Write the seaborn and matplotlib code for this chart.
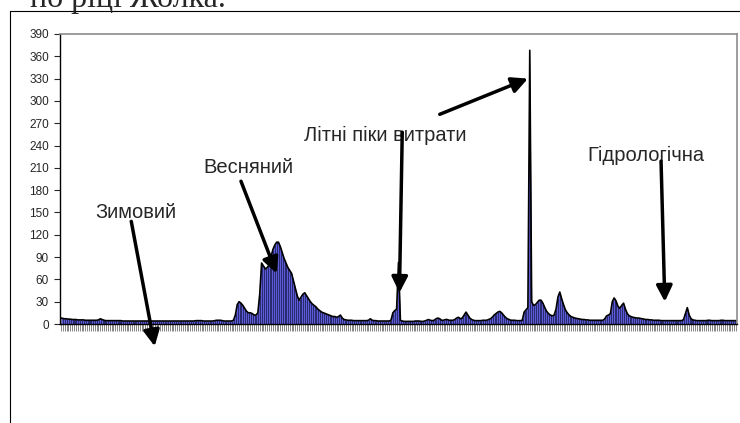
import numpy as np
import pandas as pd
import matplotlib
matplotlib.use("Agg")
import matplotlib.pyplot as plt
from matplotlib.lines import Line2D
import seaborn as sns

# ==============================================================================
# ДАНІ: добові витрати води, р. Жолка
# ==============================================================================
winter_q = [
    8, 7.5, 7, 7, 6.5, 6.5, 6, 6, 6, 5.5,
    5.5, 5.5, 5.5, 5, 5, 5, 5, 5, 5, 5,
    5.5, 7, 6, 5, 4.5, 4.5, 4.5, 4.5, 4.5, 4.5,
    4.5, 4.5, 4.5, 4, 4, 4, 4, 4, 4, 4,
    4, 4, 4, 4, 4, 4, 4, 4, 4, 4,
    4, 4, 4, 4, 4, 4, 4, 4, 4, 4,
    4, 4, 4, 4, 4, 4, 4, 4, 4, 4,
    4, 4, 4.5, 4.5, 4.5, 4.5, 4, 4, 4, 4,
    4, 4, 4.5, 5, 5, 5, 4.5, 4, 4, 4,
    4, 4, 5,
]
spring_q = [
    12, 26, 30, 28, 25, 21, 17, 15, 15, 14,
    12, 12, 15, 40, 82, 78, 74, 76, 79, 90,
    100, 106, 110, 110, 104, 96, 88, 82, 76, 72,
    68, 58, 48, 38, 32, 36, 40, 42, 38, 34,
    30, 27, 25, 23, 20, 18, 16, 15, 14, 13,
    12, 11, 10, 10, 9, 10, 12, 8, 6, 5.5,
    5, 5, 5, 4.5, 4.5, 4.5, 4.5, 4.5, 4.5, 4.5,
    4.5, 5, 7, 5, 4.5, 4.5, 4, 4, 4, 4,
    4, 4, 4, 5, 15, 18, 20, 83, 5, 4,
]
summer_q = [
    3.5, 3.5, 3.5, 3.5, 3.5, 3.5, 4, 4, 4, 3.5,
    3.5, 4, 5, 6, 5, 4.5, 5, 7, 8, 7,
    5, 5, 6, 6, 5, 5, 5, 6, 8, 9,
    7, 8, 12, 16, 12, 8, 6, 5, 4.5, 4.5,
    4.5, 4.5, 5, 5, 5, 6, 7, 9, 12, 14,
    16, 17, 15, 12, 9, 7, 6, 5, 5, 5,
    4.5, 4.5, 4.5, 5, 16, 19, 22, 368, 30, 25,
    26, 29, 32, 32, 28, 22, 17, 14, 12, 11,
    12, 20, 36, 43, 34, 26, 19, 15, 12, 10,
]
autumn_q = [
    9, 8, 7.5, 7, 6.5, 6, 6, 5.5, 5.5, 5,
    5, 5, 5, 5, 5, 5, 5, 7, 11, 12,
    14, 30, 35, 31, 24, 21, 25, 28, 20, 14,
    11, 10, 9, 8.5, 8, 8, 7.5, 7, 6.5, 6,
    6, 5.5, 5.5, 5, 5, 5, 5, 4.5, 4.5, 4.5,
    4.5, 4.5, 4.5, 4.5, 4.5, 4.5, 4.5, 4.5, 4.5, 6,
    14, 22, 12, 7, 5.5, 5, 4.5, 4.5, 4.5, 4.5,
    4.5, 4.5, 5, 5, 4.5, 4.5, 4.5, 4.5, 4.5, 5,
    5, 4.5, 4.5, 4.5, 4.5, 4.5, 4.5, 4.5,
]

y_ticks = list(range(0, 391, 30))

# підписи: (текст, позиція тексту, кінці стрілок) у координатах даних
labels = [
    ("Зимовий", (40, 150), [((37.5, 138), (50, -30))]),
    ("Весняний", (100, 210), [((96, 192), (115, 68))]),
    ("Літні піки витрати", (173, 253), [((182, 258), (180.5, 42)),
                                       ((202, 282), (249, 330))]),
    ("Гідрологічна", (312, 227), [((320, 219), (322, 30))]),
]

# ==============================================================================
# ГРАФІК
# ==============================================================================
sns.set_style("white")
plt.rcParams['font.family'] = ['Liberation Sans', 'DejaVu Sans']

q = np.array(winter_q + spring_q + summer_q + autumn_q, dtype=float)
df = pd.DataFrame({'День': np.arange(len(q)), 'Витрата': q})

fig = plt.figure(figsize=(7.4, 4.23), dpi=100)
ax = fig.add_axes([60 / 740, 1 - 324 / 423, 677 / 740, 290 / 423])

ax.fill_between(df['День'], df['Витрата'], color='#2a2a6e', linewidth=0)
ax.bar(df['День'], df['Витрата'], width=0.45, color='#5c5cd8', linewidth=0)
sns.lineplot(data=df, x='День', y='Витрата', color='black', linewidth=1.2, ax=ax)

ax.set_xlim(-0.5, len(q) - 0.5)
ax.set_ylim(0, 390)
ax.set_yticks(y_ticks)
ax.set_xticks(np.arange(len(q)))
ax.set_xticklabels([])
ax.set_xlabel('')
ax.set_ylabel('')
ax.tick_params(axis='y', direction='out', length=4, width=0.8, labelsize=8.5, left=True, pad=4)
ax.tick_params(axis='x', direction='out', length=5, width=0.5, color='#555555', bottom=True)

for side in ['top', 'right']:
    ax.spines[side].set_color('#8c8c8c')
    ax.spines[side].set_linewidth(1.2)
for side in ['left', 'bottom']:
    ax.spines[side].set_color('black')
    ax.spines[side].set_linewidth(1.0)

for text, pos, arrows in labels:
    ax.text(pos[0], pos[1], text, ha='center', va='center', fontsize=14.5, clip_on=False)
    for start, end in arrows:
        ax.annotate('', xy=end, xytext=start, annotation_clip=False,
                    arrowprops=dict(arrowstyle='-|>', color='black', lw=2.5,
                                    mutation_scale=24, shrinkA=0, shrinkB=0))

# рамка навколо діаграми у документі
fig.add_artist(Line2D([10 / 740, 10 / 740], [0, 1 - 11 / 423], color='black', lw=0.8))
fig.add_artist(Line2D([10 / 740, 1], [1 - 11 / 423, 1 - 11 / 423], color='black', lw=0.8))

# обрізаний рядок тексту документа над діаграмою
fig.text(30 / 740, 1 - 7 / 423, "по ріці Жолка.", fontsize=23,
         family=['Liberation Serif', 'DejaVu Serif'], va='baseline', ha='left')

fig.savefig("out.png", dpi=100)
